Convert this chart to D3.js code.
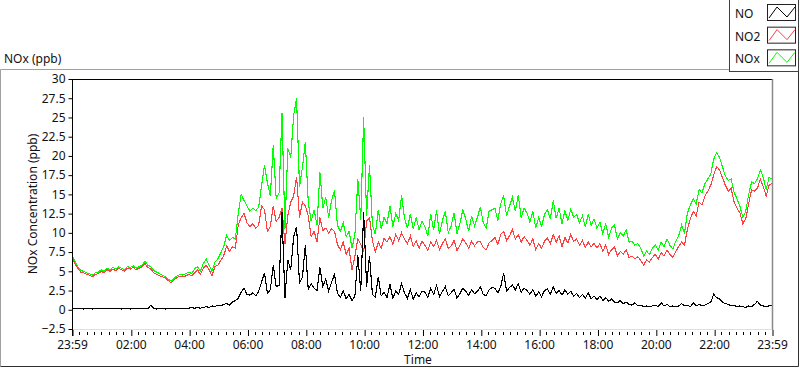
<!DOCTYPE html>
<html><head><meta charset="utf-8">
<script src="https://cdn.jsdelivr.net/npm/d3@7/dist/d3.min.js"></script>
<style>
html,body{margin:0;padding:0;background:#fff;}
svg{display:block;font-family:"Noto Sans",sans-serif;}
</style></head><body>
<svg id="chart" width="800" height="369"></svg>
<script>
// ---------------- data ----------------
const chartTitle = "NOx (ppb)";
const yAxisTitle = "NOx Concentration (ppb)";
const xAxisTitle = "Time";
const seriesNames = ["NO", "NO2", "NOx"];
const startLabel = "23:59";      // first sample time
const sampleMinutes = 6;         // sampling interval of the arrays below
const yTicks = [-2.5, 0, 2.5, 5, 7.5, 10, 12.5, 15, 17.5, 20, 22.5, 25, 27.5, 30];
const xTickLabels = ["23:59", "02:00", "04:00", "06:00", "08:00", "10:00", "12:00",
                     "14:00", "16:00", "18:00", "20:00", "22:00", "23:59"];

const no = [
 0.2,0.1,0.2,0.2,0.1,0.2,0.2,0.1,0.2,0.1,
 0.2,0.2,0.1,0.2,0.2,0.1,0.2,0.1,0.2,0.2,
 0.1,0.2,0.2,0.1,0.2,0.2,0.1,0.6,0.2,0.1,
 0.2,0.2,0.1,0.2,0.1,0.2,0.2,0.1,0.2,0.2,
 0.2,0.3,0.2,0.3,0.2,0.3,0.4,0.3,0.5,0.4,
 0.6,0.5,0.7,0.8,0.6,1.0,1.2,1.5,2.3,2.8,
 2.0,1.9,2.2,1.8,2.4,3.6,4.8,2.1,2.6,5.8,
 3.0,3.2,12.7,1.5,6.5,5.2,9.5,10.8,3.5,4.2,
 8.4,2.6,3.4,2.8,2.5,5.5,3.0,4.0,2.4,3.6,
 4.6,2.2,1.6,2.5,1.4,2.0,1.2,1.8,7.1,2.4,
 12.7,3.0,7.0,2.0,1.6,4.3,1.8,2.3,1.6,3.3,
 1.5,2.4,2.0,3.4,2.2,1.5,2.6,1.4,2.2,1.7,
 2.4,2.3,1.6,2.8,2.0,3.2,1.7,2.4,3.0,1.8,
 2.2,2.7,1.5,2.1,2.8,2.4,1.9,2.6,2.1,2.4,
 3.0,2.0,1.8,2.6,2.9,2.8,2.2,3.0,4.8,2.4,
 2.9,3.2,2.6,3.4,2.3,2.8,2.5,2.0,2.6,1.8,
 2.3,1.7,2.5,2.7,2.0,3.0,2.1,2.5,1.9,2.6,
 2.0,2.4,1.8,2.1,1.6,2.0,1.5,2.2,1.4,1.8,
 1.3,1.8,1.2,1.6,1.1,1.4,1.0,0.9,1.2,0.8,
 1.0,0.7,0.6,0.9,0.5,0.6,0.4,0.5,0.4,0.5,
 0.6,0.4,0.9,0.5,0.7,0.4,0.5,0.4,0.5,0.8,
 0.5,0.6,0.4,0.9,0.5,0.7,0.5,0.6,0.8,1.0,
 2.0,1.6,1.4,1.0,0.8,0.7,0.5,0.6,0.4,0.5,
 0.4,0.3,0.5,0.4,0.7,1.1,0.6,0.5,0.4,0.5,
 0.5];

const no2 = [
 6.9,6.0,5.4,4.9,4.8,4.6,4.5,4.3,4.6,4.7,
 5.0,4.8,5.2,5.0,5.3,5.1,5.4,5.2,5.0,5.4,
 5.3,5.5,5.2,5.4,5.6,6.0,5.5,5.3,4.8,4.6,
 4.4,4.3,4.1,3.8,3.5,3.9,4.2,4.4,4.3,4.4,
 4.6,4.4,4.8,5.2,4.6,5.4,5.8,5.2,4.4,5.6,
 5.8,6.4,7.0,8.3,7.6,8.2,8.0,11.0,12.0,12.5,
 11.3,10.8,11.2,10.6,11.0,13.5,13.0,10.2,10.8,13.5,
 11.5,12.0,13.2,8.5,12.3,14.0,14.8,17.3,12.0,14.0,
 13.5,12.2,9.5,10.2,8.8,12.0,10.3,10.6,10.0,10.5,
 10.2,8.5,7.8,8.8,7.2,8.0,5.2,7.0,9.2,8.5,
 7.5,11.5,12.0,9.0,7.5,8.8,8.0,9.3,8.8,9.5,
 8.5,9.8,9.0,10.0,9.2,8.6,9.6,8.2,9.0,8.0,
 8.9,8.4,7.7,8.8,8.2,9.0,7.8,8.6,9.2,8.0,
 8.3,9.0,7.7,8.4,9.2,8.7,8.0,8.9,8.3,8.8,
 8.9,8.1,7.8,8.7,9.0,9.4,8.5,9.8,10.2,9.0,
 9.6,10.4,9.2,9.8,8.8,9.5,9.0,8.4,9.2,7.8,
 8.6,8.0,8.9,9.3,8.6,9.8,8.8,9.6,8.2,9.4,
 8.7,9.8,8.9,9.2,8.4,9.0,8.1,8.8,8.2,8.6,
 8.0,8.6,7.6,8.4,7.2,7.8,8.2,7.0,7.6,7.2,
 7.8,6.8,7.0,6.6,6.9,6.4,5.8,6.5,6.2,6.8,
 7.2,6.6,7.4,7.0,7.8,7.2,6.8,7.6,8.2,8.8,
 8.4,10.5,11.8,12.8,12.2,14.0,13.6,14.8,15.4,16.2,
 17.5,18.6,18.2,17.2,16.2,15.4,15.8,14.0,13.2,12.6,
 11.2,11.8,13.8,15.6,15.4,15.8,17.0,16.0,14.8,16.2,
 16.4];

const nox = [
 7.2,6.3,5.6,5.1,5.0,4.8,4.7,4.5,4.8,4.9,
 5.2,5.0,5.4,5.2,5.5,5.3,5.6,5.4,5.2,5.6,
 5.5,5.7,5.4,5.6,5.8,6.3,5.8,5.6,5.1,4.9,
 4.7,4.5,4.3,4.0,3.7,4.1,4.4,4.6,4.5,4.7,
 4.9,4.7,5.3,5.6,5.0,6.0,6.6,5.8,5.0,6.2,
 6.6,7.4,8.2,9.7,9.0,9.4,9.2,12.5,15.0,14.2,
 13.5,12.8,13.2,12.9,13.3,16.2,18.8,16.5,14.8,21.4,
 14.5,15.2,25.6,10.5,21.0,19.8,25.3,27.5,16.0,18.5,
 21.8,14.0,11.5,13.0,11.0,17.9,13.2,14.6,12.0,14.2,
 15.5,11.0,10.2,11.3,9.5,10.2,8.0,9.8,17.0,11.7,
 25.0,12.2,18.8,11.0,9.8,13.0,10.5,12.0,11.2,13.5,
 10.8,12.5,11.6,14.9,11.9,10.6,12.5,10.5,12.0,10.4,
 11.5,10.8,9.6,12.4,10.4,12.9,9.8,11.6,12.8,10.0,
 10.9,12.6,9.9,11.2,13.0,11.8,10.2,12.2,10.9,12.0,
 13.4,11.3,10.6,12.8,13.0,13.2,11.6,13.8,14.8,12.2,
 13.5,14.6,12.8,14.9,12.0,13.2,12.6,11.4,12.8,10.6,
 12.0,10.9,12.4,13.0,11.8,14.2,11.9,13.2,11.2,12.9,
 11.6,13.1,12.0,12.4,11.3,12.2,10.8,12.4,11.0,11.8,
 10.6,11.4,9.9,11.2,9.4,10.6,11.0,9.2,10.0,9.6,
 10.4,8.8,8.9,8.4,8.6,8.0,7.0,7.6,7.2,8.0,
 8.4,7.8,8.8,8.2,9.2,8.4,7.9,8.9,9.6,11.0,
 10.0,12.6,13.6,14.4,13.8,15.6,15.2,16.4,17.0,17.6,
 19.6,20.4,19.8,18.6,17.4,16.8,17.0,15.3,14.4,13.5,
 12.0,12.8,15.0,16.6,16.4,17.0,18.2,17.2,15.6,17.2,
 17.0];

// ---------------- styles ----------------
const colors = {NO: "#000000", NO2: "#ff4040", NOx: "#00ff00"};
const W = 800, H = 369;
const plot = {left: 72, right: 772, top: 79, bottom: 329};

const svg = d3.select("#chart");

// time helpers
function hm(s) { const p = s.split(":"); return +p[0] * 60 + +p[1]; }
const base = new Date(2000, 0, 1, 0, 0);
const t0 = new Date(base.getTime() + hm(startLabel) * 60000);
const times = no.map((_, i) => new Date(t0.getTime() + i * sampleMinutes * 60000));

let prev = -Infinity;
const xTickDates = xTickLabels.map(l => {
  let m = hm(l);
  while (m <= prev) m += 1440;
  prev = m;
  return new Date(base.getTime() + m * 60000);
});

const x = d3.scaleTime().domain([xTickDates[0], xTickDates[xTickDates.length - 1]])
  .range([plot.left, plot.right]);
const y = d3.scaleLinear().domain([-2.5, 30]).range([plot.bottom, plot.top]);

// outer frame
svg.append("path")
  .attr("d", `M0.5,${H - 2.5} L0.5,69.5 L730.5,69.5`)
  .attr("fill", "none").attr("stroke", "#a0a0a0");
svg.append("path")
  .attr("d", `M0.5,${H - 2.5} L798.5,${H - 2.5} L798.5,71.5`)
  .attr("fill", "none").attr("stroke", "#303030");

// title
svg.append("text").attr("x", 4).attr("y", 63).attr("font-size", 12).attr("fill", "#111")
  .text(chartTitle);

// plot background
svg.append("rect").attr("x", plot.left).attr("y", plot.top)
  .attr("width", plot.right - plot.left).attr("height", plot.bottom - plot.top)
  .attr("fill", "#fff");

svg.append("clipPath").attr("id", "clip").append("rect")
  .attr("x", plot.left).attr("y", plot.top)
  .attr("width", plot.right - plot.left).attr("height", plot.bottom - plot.top);

const g = svg.append("g").attr("clip-path", "url(#clip)");
const line = d3.line().x((d, i) => x(times[i])).y(d => y(d)).curve(d3.curveLinear);

[["NOx", nox], ["NO2", no2], ["NO", no]].forEach(([name, arr]) => {
  g.append("path").datum(arr).attr("d", line)
    .attr("fill", "none").attr("stroke", colors[name]).attr("stroke-width", 1.1)
    .attr("stroke-linejoin", "miter").attr("shape-rendering", "crispEdges");
});

// frame lines: top black, right/bottom gray
svg.append("line").attr("x1", plot.left).attr("x2", plot.right).attr("y1", plot.top + 0.5).attr("y2", plot.top + 0.5)
  .attr("stroke", "#000");
svg.append("line").attr("x1", plot.right + 0.5).attr("x2", plot.right + 0.5).attr("y1", plot.top).attr("y2", plot.bottom + 1)
  .attr("stroke", "#8a8a8a").attr("stroke-width", 1.5);
svg.append("line").attr("x1", plot.left).attr("x2", plot.right).attr("y1", plot.bottom + 0.5).attr("y2", plot.bottom + 0.5)
  .attr("stroke", "#e0e0e0");

// y axis
const yAxis = d3.axisLeft(y).tickValues(yTicks).tickSize(4).tickPadding(3)
  .tickFormat(d => d3.format("")(d));
const yg = svg.append("g").attr("transform", `translate(${plot.left + 0.5},0)`).call(yAxis);
yg.select(".domain").attr("d", `M0,${plot.top} V${plot.bottom + 7}`).attr("stroke", "#000");
yg.selectAll(".tick line").attr("stroke", "#000");
yg.selectAll("text").attr("font-size", 12).attr("fill", "#111").attr("font-family", "Noto Sans, sans-serif");

// x axis major
const xAxis = d3.axisBottom(x).tickValues(xTickDates).tickSize(6).tickPadding(4)
  .tickFormat((d, i) => xTickLabels[i]);
const xg = svg.append("g").attr("transform", `translate(0,${plot.bottom + 1})`).call(xAxis);
xg.select(".domain").remove();
xg.selectAll(".tick line").attr("stroke", "#000").attr("transform", "translate(0.5,0)");
xg.selectAll("text").attr("font-size", 12).attr("fill", "#111").attr("font-family", "Noto Sans, sans-serif");

// x axis minor ticks (8 subdivisions per major interval)
const minor = [];
for (let k = 0; k < xTickDates.length - 1; k++) {
  const a = xTickDates[k].getTime(), b = xTickDates[k + 1].getTime();
  for (let j = 1; j < 8; j++) minor.push(new Date(a + (b - a) * j / 8));
}
svg.append("g").selectAll("line").data(minor).join("line")
  .attr("x1", d => Math.round(x(d)) + 0.5).attr("x2", d => Math.round(x(d)) + 0.5)
  .attr("y1", plot.bottom + 3).attr("y2", plot.bottom + 6).attr("stroke", "#000");

// axis titles
svg.append("text").attr("transform", `translate(37,${(plot.top + plot.bottom) / 2}) rotate(-90)`)
  .attr("text-anchor", "middle").attr("font-size", 12).attr("fill", "#111").text(yAxisTitle);
svg.append("text").attr("x", 418).attr("y", 364).attr("text-anchor", "middle")
  .attr("font-size", 12).attr("fill", "#111").text(xAxisTitle);

// legend
const lg = svg.append("g");
lg.append("rect").attr("x", 729.5).attr("y", -1).attr("width", 69).attr("height", 72.5)
  .attr("fill", "#fff").attr("stroke", "#404040");
const legendSeries = seriesNames.map(n => ({name: n, color: colors[n]}));
const ly = d3.scaleBand().domain(seriesNames).range([2, 70]);
legendSeries.forEach(s => {
  const yy = ly(s.name);
  lg.append("text").attr("x", 735).attr("y", yy + 16).attr("font-size", 12).attr("fill", "#111").text(s.name);
  lg.append("rect").attr("x", 767.5).attr("y", yy + 2.5).attr("width", 28).attr("height", 16)
    .attr("fill", "#fff").attr("stroke", "#222");
  lg.append("polyline")
    .attr("points", [[769, yy + 16], [777, yy + 5], [787, yy + 15], [795, yy + 5]].map(p => p.join(",")).join(" "))
    .attr("fill", "none").attr("stroke", s.color).attr("stroke-width", 1);
});
</script>
</body></html>
